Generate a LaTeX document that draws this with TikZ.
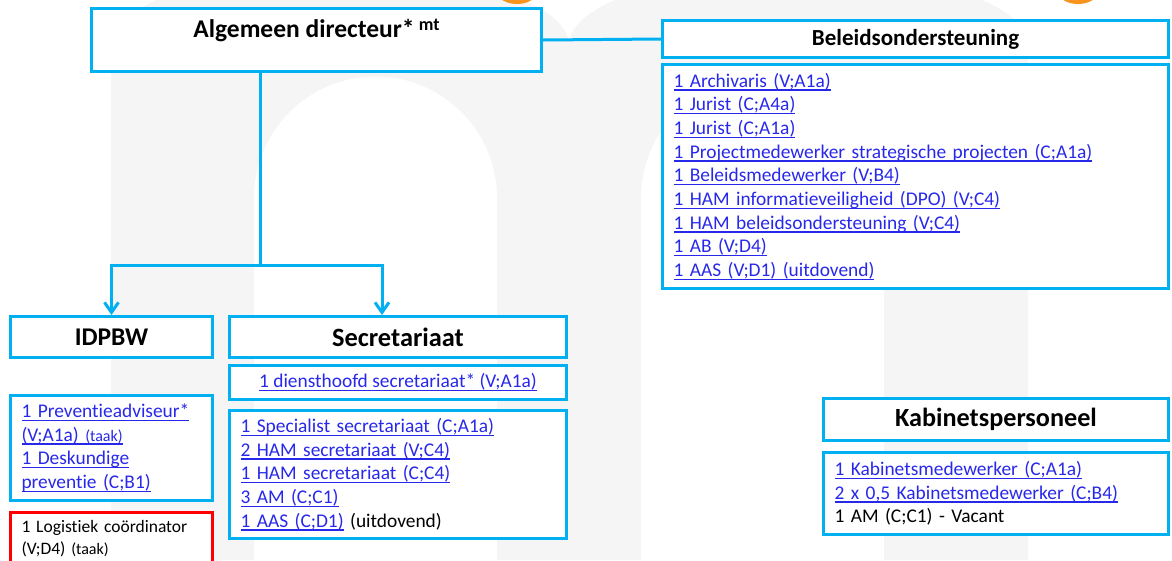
\documentclass[tikz,border=0pt]{standalone}
\usepackage{fontspec}
\setmainfont{Carlito}[Ligatures=NoCommon]
\usetikzlibrary{arrows.meta,calc}
\definecolor{bbl}{RGB}{0,176,240}
\definecolor{lnk}{RGB}{40,40,235}
\definecolor{wmk}{RGB}{245,245,245}
\definecolor{org}{RGB}{247,148,29}
\newlength\lkw
\newcommand\lk[1]{\settowidth\lkw{#1}\textcolor{lnk}{\rlap{\rule[-3.5pt]{\lkw}{1.3pt}}#1}}
\tikzset{
  box/.style={draw=bbl, line width=3pt, fill=white, rectangle, inner sep=0pt},
  hdr/.style={box, font=\bfseries\fontsize{26}{30}\selectfont},
  body/.style={box, align=left, inner xsep=11pt, font=\fontsize{19.4}{23.7}\selectfont},
  conn/.style={draw=bbl, line width=3pt},
  arr/.style={conn, -{Straight Barb[length=10pt,width=14pt]}}
}
\begin{document}
\begin{tikzpicture}[x=1pt,y=-1pt]
\useasboundingbox (0,0) rectangle (1172,560);
% watermark
\fill[wmk, even odd rule]
  (111,560) -- (111,45) arc[start angle=180,end angle=360,x radius=229,y radius=75]
  arc[start angle=180,end angle=360,x radius=229.5,y radius=75] -- (1028,560) -- cycle
  (254,560) -- (254,198) arc[start angle=180,end angle=360,radius=121.5] -- (497,560) -- cycle
  (641,560) -- (641,198) arc[start angle=180,end angle=360,radius=121.5] -- (884,560) -- cycle;
\fill[org] (517,-26) circle[radius=30];
\fill[org] (1078,-26) circle[radius=30];

\node[hdr, minimum width=450pt, minimum height=63pt, text depth=24pt, font=\bfseries\fontsize{25.5}{30}\selectfont] (alg) at (316.5,40)
  {Algemeen directeur*\,\raisebox{7pt}{\fontsize{18}{20}\selectfont mt}};
\node[hdr, minimum width=506pt, minimum height=37pt, font=\bfseries\fontsize{23}{27}\selectfont] (bh) at (915.5,39) {Beleidsondersteuning};
\node[body, text width=484pt, minimum height=224pt] (bc) at (915.5,176.5) {%
\lk{1 Archivaris (V;A1a)}\\
\lk{1 Jurist (C;A4a)}\\
\lk{1 Jurist (C;A1a)}\\
\lk{1 Projectmedewerker strategische projecten (C;A1a)}\\
\lk{1 Beleidsmedewerker (V;B4)}\\
\lk{1 HAM informatieveiligheid (DPO) (V;C4)}\\
\lk{1 HAM beleidsondersteuning (V;C4)}\\
\lk{1 AB (V;D4)}\\
\lk{1 AAS (V;D1) (uitdovend)}};

\node[hdr, minimum width=202pt, minimum height=41pt, font=\bfseries\fontsize{25.5}{30}\selectfont] (idh) at (111.5,337) {IDPBW};
\node[body, text width=180pt, minimum height=105pt] (idc) at (111.5,448) {%
\lk{1 Preventieadviseur*}\\
\lk{(V;A1a) {\fontsize{16}{19}\selectfont(taak)}}\\
\lk{1 Deskundige}\\
\lk{preventie (C;B1)}};
\node[box, draw=red, align=left, inner xsep=11pt, text width=180pt, minimum height=52pt,
  font=\fontsize{17.5}{21.5}\selectfont] (red) at (111.5,538.5) {%
1 Logistiek coördinator\\
(V;D4) {\fontsize{16}{19}\selectfont(taak)}};

\node[hdr, minimum width=337pt, minimum height=41pt, font=\bfseries\fontsize{26.4}{31}\selectfont] (sh) at (398,337) {Secretariaat};
\node[box, minimum width=337pt, minimum height=34pt, font=\fontsize{19.4}{23.7}\selectfont] (sd) at (398,382.5) {\lk{1 diensthoofd secretariaat* (V;A1a)}};
\node[body, text width=315pt, minimum height=128pt] (sc) at (398,474.5) {%
\lk{1 Specialist secretariaat (C;A1a)}\\
\lk{2 HAM secretariaat (V;C4)}\\
\lk{1 HAM secretariaat (C;C4)}\\
\lk{3 AM (C;C1)}\\
\lk{1 AAS (C;D1)} (uitdovend)};

\node[hdr, minimum width=345pt, minimum height=42pt, font=\bfseries\fontsize{26.2}{30}\selectfont] (kh) at (996,419.5) {Kabinetspersoneel};
\node[body, text width=323pt, minimum height=82pt] (kc) at (996,493.5) {%
\lk{1 Kabinetsmedewerker (C;A1a)}\\
\lk{2 x 0,5 Kabinetsmedewerker (C;B4)}\\
1 AM (C;C1) - Vacant};

% connectors
\coordinate (j) at (260,265);
\coordinate (sin) at (382,0);
\draw[conn] (alg.east) -- (bh.west);
\draw[conn] (alg.south -| j) -- (j);
\draw[arr] (j) -| (idh.north);
\draw[arr] (j) -| (sin |- sh.north);
\end{tikzpicture}
\end{document}
